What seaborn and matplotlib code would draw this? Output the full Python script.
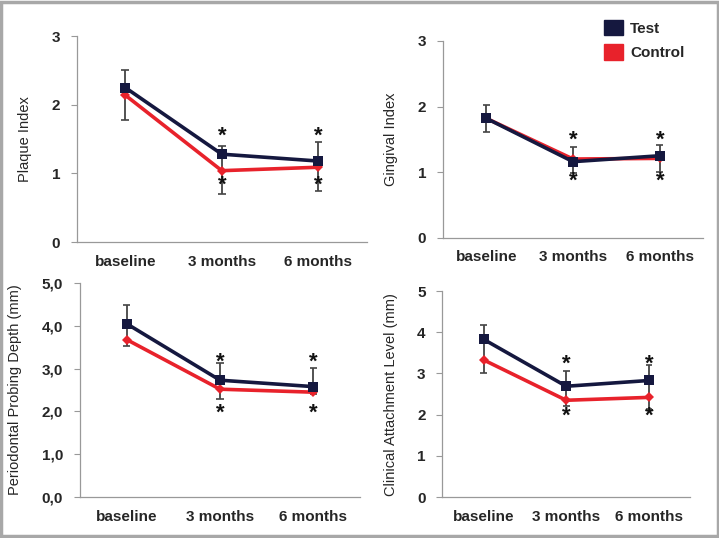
import numpy as np
import pandas as pd
import matplotlib
matplotlib.use("Agg")
import matplotlib.pyplot as plt
import matplotlib.patches as mpatches
import seaborn as sns

# categories and values
times = ["baseline", "3 months", "6 months"]

plaque_test = [2.25, 1.28, 1.18]
plaque_ctrl = [2.14, 1.04, 1.09]
plaque_err_hi = [2.50, 1.40, 1.46]
plaque_err_lo = [1.78, 0.70, 0.74]
plaque_star_hi = [None, 1.54, 1.54]
plaque_star_lo = [None, 0.83, 0.83]

gingival_test = [1.82, 1.16, 1.25]
gingival_ctrl = [1.82, 1.20, 1.21]
gingival_err_hi = [2.02, 1.39, 1.42]
gingival_err_lo = [1.61, 0.98, 1.01]
gingival_star_hi = [None, 1.48, 1.48]
gingival_star_lo = [None, 0.86, 0.86]

ppd_test = [4.05, 2.73, 2.58]
ppd_ctrl = [3.68, 2.52, 2.45]
ppd_err_hi = [4.49, 3.12, 3.01]
ppd_err_lo = [3.54, 2.30, 2.40]
ppd_star_hi = [None, 3.15, 3.15]
ppd_star_lo = [None, 1.97, 1.97]

cal_test = [3.83, 2.69, 2.83]
cal_ctrl = [3.33, 2.35, 2.42]
cal_err_hi = [4.18, 3.05, 3.20]
cal_err_lo = [3.01, 2.20, 2.15]
cal_star_hi = [None, 3.22, 3.22]
cal_star_lo = [None, 1.97, 1.97]

panels = [
    ("Plaque Index", plaque_test, plaque_ctrl, plaque_err_hi, plaque_err_lo,
     plaque_star_hi, plaque_star_lo, [0, 1, 2, 3], ["0", "1", "2", "3"], 3,
     [0.107, 0.550, 0.403, 0.383]),
    ("Gingival Index", gingival_test, gingival_ctrl, gingival_err_hi, gingival_err_lo,
     gingival_star_hi, gingival_star_lo, [0, 1, 2, 3], ["0", "1", "2", "3"], 3,
     [0.616, 0.558, 0.362, 0.366]),
    ("Periodontal Probing Depth (mm)", ppd_test, ppd_ctrl, ppd_err_hi, ppd_err_lo,
     ppd_star_hi, ppd_star_lo, [0, 1, 2, 3, 4, 5],
     ["0,0", "1,0", "2,0", "3,0", "4,0", "5,0"], 5,
     [0.111, 0.076, 0.390, 0.398]),
    ("Clinical Attachment Level (mm)", cal_test, cal_ctrl, cal_err_hi, cal_err_lo,
     cal_star_hi, cal_star_lo, [0, 1, 2, 3, 4, 5], ["0", "1", "2", "3", "4", "5"], 5,
     [0.615, 0.076, 0.345, 0.383]),
]

test_color = "#15183f"
ctrl_color = "#e8222b"

sns.set_style("white")
plt.rcParams["font.family"] = ["Liberation Sans", "DejaVu Sans"]

fig = plt.figure(figsize=(7.19, 5.38), dpi=100)

for (ylabel, test, ctrl, ehi, elo, shi, slo, yticks, ytl, ymax, pos) in panels:
    ax = fig.add_axes(pos)
    df = pd.DataFrame({
        "time": times * 2,
        "x": [0, 1, 2] * 2,
        "value": test + ctrl,
        "group": ["Test"] * 3 + ["Control"] * 3,
    })
    x = np.arange(len(times))
    # error bars (drawn behind the lines)
    ax.vlines(x, elo, ehi, color="#444444", lw=1.3, zorder=1)
    ax.hlines(ehi, x - 0.04, x + 0.04, color="#444444", lw=1.2, zorder=1)
    ax.hlines(elo, x - 0.04, x + 0.04, color="#444444", lw=1.2, zorder=1)
    sns.lineplot(data=df[df.group == "Control"], x="x", y="value", ax=ax,
                 color=ctrl_color, lw=2.6, marker="D", markersize=5,
                 markeredgewidth=0, zorder=2)
    sns.lineplot(data=df[df.group == "Test"], x="x", y="value", ax=ax,
                 color=test_color, lw=2.6, marker="s", markersize=7,
                 markeredgewidth=0, zorder=3)
    for i in range(len(times)):
        if shi[i] is not None:
            ax.text(i, shi[i], "*", ha="center", va="center", fontsize=16,
                    fontweight="bold", color="#111111")
        if slo[i] is not None:
            ax.text(i, slo[i], "*", ha="center", va="center", fontsize=16,
                    fontweight="bold", color="#111111")
    ax.set_xlim(-0.5, 2.5)
    ax.set_ylim(0, ymax)
    ax.set_yticks(yticks)
    ax.set_yticklabels(ytl, fontweight="bold", fontsize=11)
    ax.set_xticks(x)
    ax.set_xticklabels(times, fontweight="bold", fontsize=11)
    ax.tick_params(axis="x", length=0, pad=9)
    ax.tick_params(axis="y", length=4, width=0.8, color="#999999", direction="out", pad=8,
                   left=True)
    ax.set_xlabel("")
    ax.set_ylabel(ylabel, fontsize=10.5, labelpad=14)
    for s in ["top", "right"]:
        ax.spines[s].set_visible(False)
    for s in ["left", "bottom"]:
        ax.spines[s].set_color("#999999")
        ax.spines[s].set_linewidth(0.9)
    if ax.get_legend() is not None:
        ax.get_legend().remove()

handles = [mpatches.Patch(color=test_color, label="Test"),
           mpatches.Patch(color=ctrl_color, label="Control")]
leg = fig.legend(handles=handles, loc="upper left", bbox_to_anchor=(0.832, 0.975),
                 frameon=False, prop={"weight": "bold", "size": 11},
                 handlelength=1.2, handleheight=1.2, handletextpad=0.5,
                 labelspacing=0.55, borderaxespad=0)

fig.patches.append(mpatches.Rectangle((0.002, 0.003), 0.996, 0.994, transform=fig.transFigure,
                                      fill=False, edgecolor="#a8a8a8", lw=2.5))

fig.savefig("out.png", dpi=100)
